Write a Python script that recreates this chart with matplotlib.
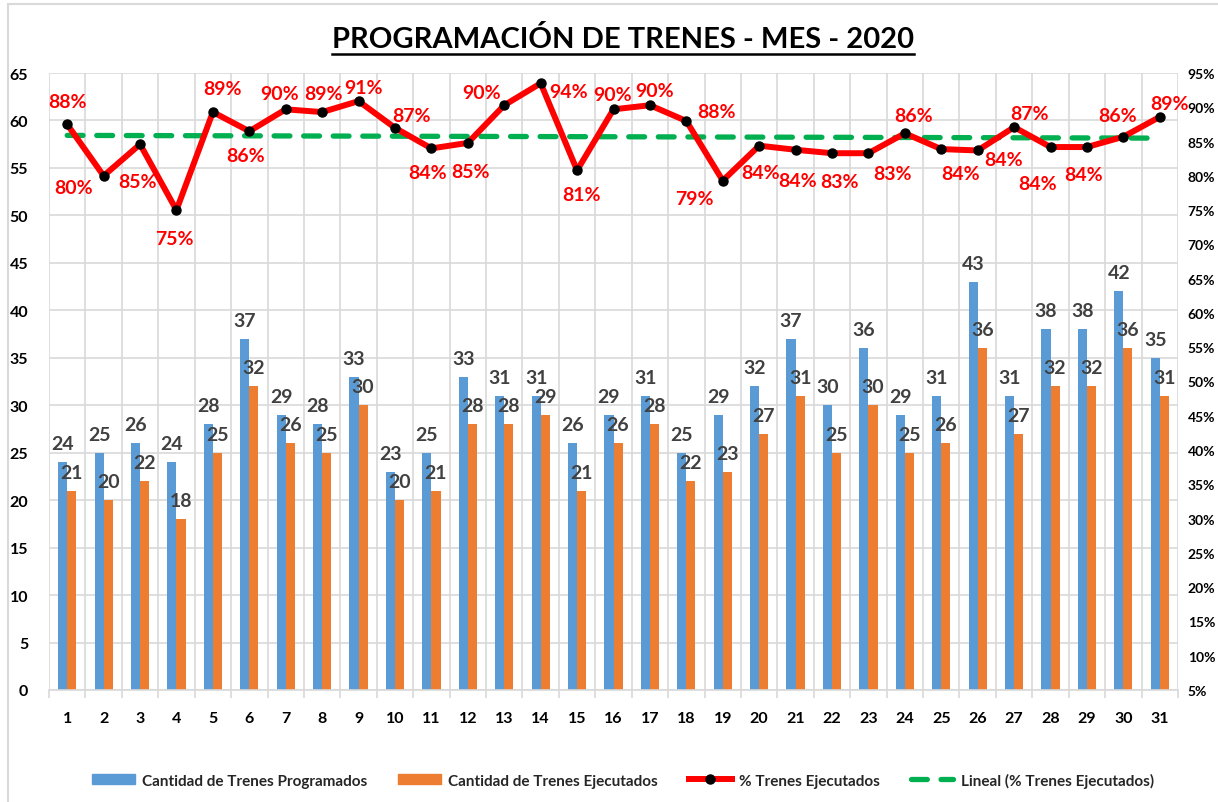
import matplotlib
matplotlib.use('Agg')
import matplotlib.pyplot as plt
from matplotlib.lines import Line2D
from matplotlib.patches import Patch, Rectangle
import numpy as np

plt.rcParams['font.family'] = ['Lato', 'DejaVu Sans']
plt.rcParams['font.weight'] = 'bold'

# data
dias = list(range(1, 32))
programados = [24, 25, 26, 24, 28, 37, 29, 28, 33, 23, 25, 33, 31, 31, 26, 29,
               31, 25, 29, 32, 37, 30, 36, 29, 31, 43, 31, 38, 38, 42, 35]
ejecutados = [21, 20, 22, 18, 25, 32, 26, 25, 30, 20, 21, 28, 28, 29, 21, 26,
              28, 22, 23, 27, 31, 25, 30, 25, 26, 36, 27, 32, 32, 36, 31]
pct = [0.875, 0.80, 0.846, 0.75, 0.893, 0.865, 0.897, 0.893, 0.909, 0.870, 0.84,
       0.848, 0.903, 0.935, 0.808, 0.897, 0.903, 0.88, 0.793, 0.844, 0.838, 0.833,
       0.833, 0.862, 0.839, 0.837, 0.871, 0.842, 0.842, 0.857, 0.886]
pct_labels = ['88%', '80%', '85%', '75%', '89%', '86%', '90%', '89%', '91%', '87%',
              '84%', '85%', '90%', '94%', '81%', '90%', '90%', '88%', '79%', '84%',
              '84%', '83%', '83%', '86%', '84%', '84%', '87%', '84%', '84%', '86%', '89%']
tendencia_x = [1, 31]
tendencia_y = [0.859, 0.855]

# label offsets (pixels) for the percent labels, as placed in the original
lab_off = [(0, 23), (-30, -12), (-3, -37), (-2, -28), (10, 24), (-4, -24), (-6, 16),
           (1, 19), (5, 14), (17, 12), (-4, -24), (3, -29), (-23, 13), (28, -8),
           (4, -24), (-1, 15), (5, 15), (30, 9), (-28, -18), (1, -27), (2, -31),
           (7, -28), (24, -20), (9, 18), (19, -24), (26, -9), (15, 14), (-13, -36),
           (-3, -27), (-6, 21), (10, 13)]

c_blue = '#5b9bd5'
c_orange = '#ed7d31'
c_red = '#ff0000'
c_green = '#00b050'
c_grid = '#d9d9d9'
c_txt = '#000000'

fig = plt.figure(figsize=(12.18, 8.03), dpi=100)
ax = fig.add_axes([49/1218, 1-691/803, (1178-49)/1218, (691-74)/803])
ax2 = ax.twinx()

x = np.array(dias)
w = 0.25
ax.bar(x - w/2, programados, w, color=c_blue, zorder=2)
ax.bar(x + w/2, ejecutados, w, color=c_orange, zorder=2)
for xi, v in zip(x, programados):
    ax.annotate(str(v), (xi - w/2, v), xytext=(0, 13), textcoords='offset pixels',
                ha='center', va='baseline', fontsize=14, fontweight='bold', color='#404040')
for xi, v in zip(x, ejecutados):
    ax.annotate(str(v), (xi + w/2, v), xytext=(0, 13), textcoords='offset pixels',
                ha='center', va='baseline', fontsize=14, fontweight='bold', color='#404040')

ax.set_xlim(0.5, 31.5)
ax.set_ylim(0, 65)
ax.set_yticks(range(0, 66, 5))
ax.set_xticks(x)
ax.set_xticks(np.arange(0.5, 32, 1), minor=True)
ax.tick_params(axis='x', which='major', length=0, pad=15, labelsize=11.5)
ax.tick_params(axis='x', which='minor', length=6, color=c_grid, width=1.2)
ax.tick_params(axis='y', length=0, pad=15, labelsize=11.5)
ax.grid(axis='y', color=c_grid, lw=1.2, zorder=0)
ax.grid(axis='x', which='minor', color=c_grid, lw=1.2, zorder=0)
ax.set_axisbelow(True)
for s in ['top', 'right', 'left']:
    ax.spines[s].set_visible(False)
ax.spines['bottom'].set_color(c_grid)
ax.spines['bottom'].set_linewidth(1.2)
for lab in ax.get_xticklabels() + ax.get_yticklabels():
    lab.set_fontweight('bold')

ax2.plot(tendencia_x, tendencia_y, color=c_green, lw=3.8, dashes=(3.0, 2.6),
         dash_capstyle='round', zorder=3)
ax2.plot(x, pct, color=c_red, lw=4.3, marker='o', markersize=6.5,
         markerfacecolor='black', markeredgecolor='black', zorder=4)
for xi, p, t, (dx, dy) in zip(x, pct, pct_labels, lab_off):
    ax2.annotate(t, (xi, p), xytext=(dx, dy), textcoords='offset pixels',
                 ha='center', va='center', fontsize=14, fontweight='bold', color=c_red)
ax2.set_ylim(0.05, 0.95)
ax2.set_yticks(np.arange(0.05, 0.951, 0.05))
ax2.set_yticklabels(['%d%%' % round(v*100) for v in np.arange(0.05, 0.951, 0.05)])
ax2.tick_params(axis='y', length=0, pad=7, labelsize=10)
for lab in ax2.get_yticklabels():
    lab.set_fontweight('bold')
for s in ax2.spines.values():
    s.set_visible(False)

# title with underline
title = fig.text(623/1218, 1-40/803, 'PROGRAMACIÓN DE TRENES - MES - 2020',
                 ha='center', va='center', fontsize=21, fontweight='bold', color=c_txt)
fig.canvas.draw()
bb = title.get_window_extent()
fig.add_artist(Line2D([bb.x0/1218, bb.x1/1218], [(bb.y0 - 1)/803, (bb.y0 - 1)/803],
                      color=c_txt, lw=1.8))

# border
fig.add_artist(Rectangle((8/1218, -0.02), 1.1, 1 - 5/803 + 0.02, transform=fig.transFigure,
                         fill=False, edgecolor=c_grid, lw=1.5))

handles = [Patch(color=c_blue), Patch(color=c_orange),
           Line2D([], [], color=c_red, lw=4.3, marker='o', markersize=6.5,
                  markerfacecolor='black', markeredgecolor='black'),
           Line2D([], [], color=c_green, lw=3.8, dashes=(3.0, 2.6), dash_capstyle='round')]
labels = ['Cantidad de Trenes Programados', 'Cantidad de Trenes Ejecutados',
          '% Trenes Ejecutados', 'Lineal (% Trenes Ejecutados)']
leg = fig.legend(handles, labels, loc='center', bbox_to_anchor=(623/1218, 1-781/803),
                 ncol=4, frameon=False, fontsize=11, handlelength=2.8,
                 handleheight=0.6, handletextpad=0.5, columnspacing=2.0)
for t in leg.get_texts():
    t.set_fontweight('bold')
    t.set_color('#262626')

fig.savefig('out.png', dpi=100)
